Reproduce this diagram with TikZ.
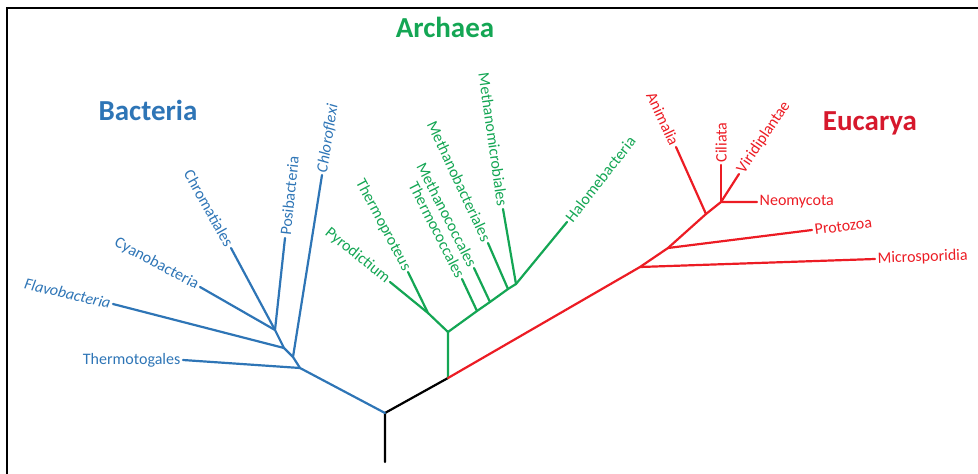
\documentclass[tikz,border=0pt]{standalone}
\usepackage{fontspec}
\setmainfont{Carlito}
\definecolor{bac}{RGB}{46,117,182}
\definecolor{arc}{RGB}{20,166,84}
\definecolor{euc}{RGB}{236,28,36}
\definecolor{euct}{RGB}{214,24,44}
\begin{document}
\begin{tikzpicture}[x=1pt,y=-1pt,
  branch/.style={line width=2.2pt, line cap=round, line join=round},
  leaf/.style={font=\fontsize{16}{18}\selectfont, inner sep=2.5pt},
  title/.style={font=\fontsize{29}{32}\selectfont\bfseries, inner sep=0pt, anchor=base}]
\useasboundingbox (0,0) rectangle (978,474);
% frame
\draw[line width=2pt] (7,474) -- (7,8) -- (978,8);

% root and stem
\coordinate (rb) at (385,462);
\coordinate (R)  at (385,413);
\coordinate (A)  at (448,378);

% Bacteria
\coordinate (b1) at (300,368);
\coordinate (b2) at (293,357);
\coordinate (b3) at (284,348);
\coordinate (b4) at (275,330);
\coordinate (tg) at (183,360);
\coordinate (fl) at (113,304);
\coordinate (cy) at (200,287);
\coordinate (ch) at (231,248);
\coordinate (po) at (285,238);
\coordinate (cl) at (322,175);

% Archaea
\coordinate (g1) at (448,332);
\coordinate (g2) at (428,313);
\coordinate (py) at (390,282);
\coordinate (tp) at (408,272);
\coordinate (g3) at (477,311);
\coordinate (tc) at (462,279);
\coordinate (g4) at (490,302);
\coordinate (mc) at (474,268);
\coordinate (g5) at (508,289);
\coordinate (mb) at (488,243);
\coordinate (g6) at (516,284);
\coordinate (mm) at (503,209);
\coordinate (ha) at (567,222);

% Eucarya
\coordinate (e1) at (640,267);
\coordinate (e2) at (668,248);
\coordinate (e3) at (706,214);
\coordinate (e4) at (721,202);
\coordinate (mi) at (875,259);
\coordinate (pr) at (812,230);
\coordinate (an) at (676,147);
\coordinate (ne) at (757,202);
\coordinate (ci) at (721,165);
\coordinate (vi) at (739,174);

% branches
\draw[branch, black] (rb) -- (R) -- (A);
\draw[branch, bac] (R) -- (b1) -- (b2) -- (b3) -- (b4);
\draw[branch, bac] (b1) -- (tg);
\draw[branch, bac] (b2) -- (cl);
\draw[branch, bac] (b3) -- (fl);
\draw[branch, bac] (b4) -- (cy);
\draw[branch, bac] (b4) -- (ch);
\draw[branch, bac] (b4) -- (po);

\draw[branch, arc] (A) -- (g1) -- (g3) -- (g4) -- (g5) -- (g6) -- (ha);
\draw[branch, arc] (g1) -- (g2) -- (py);
\draw[branch, arc] (g2) -- (tp);
\draw[branch, arc] (g3) -- (tc);
\draw[branch, arc] (g4) -- (mc);
\draw[branch, arc] (g5) -- (mb);
\draw[branch, arc] (g6) -- (mm);

\draw[branch, euc] (A) -- (e1) -- (e2) -- (e3) -- (e4) -- (ne);
\draw[branch, euc] (e1) -- (mi);
\draw[branch, euc] (e2) -- (pr);
\draw[branch, euc] (e3) -- (an);
\draw[branch, euc] (e4) -- (ci);
\draw[branch, euc] (e4) -- (vi);

% group titles
\node[title, bac]  (tBac) at (148,120) {Bacteria};
\node[title, arc]  (tArc) at (445,37)  {Archaea};
\node[title, euct] (tEuc) at (870,130) {Eucarya};

% Bacteria labels
\node[leaf, bac, anchor=east] (lTg) at (tg) {Thermotogales};
\node[leaf, bac, anchor=east, rotate=-13] (lFl) at (fl) {\itshape Flavobacteria};
\node[leaf, bac, anchor=east, rotate=-28] (lCy) at (cy) {Cyanobacteria};
\node[leaf, bac, anchor=east, rotate=-61] (lCh) at (ch) {Chromatiales};
\node[leaf, bac, anchor=west, rotate=84]  (lPo) at (po) {Posibacteria};
\node[leaf, bac, anchor=west, rotate=81]  (lCl) at (cl) {\itshape Chloroflexi};

% Archaea labels
\node[leaf, arc, anchor=east, rotate=-39] (lPy) at (py) {Pyrodictium};
\node[leaf, arc, anchor=east, rotate=-62] (lTp) at (tp) {Thermoproteus};
\node[leaf, arc, anchor=east, rotate=-63] (lTc) at (tc) {Thermococcales};
\node[leaf, arc, anchor=east, rotate=-63] (lMc) at (mc) {Methanococcales};
\node[leaf, arc, anchor=east, rotate=-65] (lMb) at (mb) {Methanobacteriales};
\node[leaf, arc, anchor=east, rotate=-82] (lMm) at (mm) {Methanomicrobiales};
\node[leaf, arc, anchor=west, rotate=52]  (lHa) at (ha) {Halomebacteria};

% Eucarya labels
\node[leaf, euc, anchor=east, rotate=-65] (lAn) at (an) {Animalia};
\node[leaf, euc, anchor=west, rotate=90]  (lCi) at (ci) {Ciliata};
\node[leaf, euc, anchor=west, rotate=56]  (lVi) at (vi) {Viridiplantae};
\node[leaf, euc, anchor=west]             (lNe) at (ne) {Neomycota};
\node[leaf, euc, anchor=west, rotate=7]   (lPr) at (pr) {Protozoa};
\node[leaf, euc, anchor=west, rotate=2]   (lMi) at (mi) {Microsporidia};
\end{tikzpicture}
\end{document}
